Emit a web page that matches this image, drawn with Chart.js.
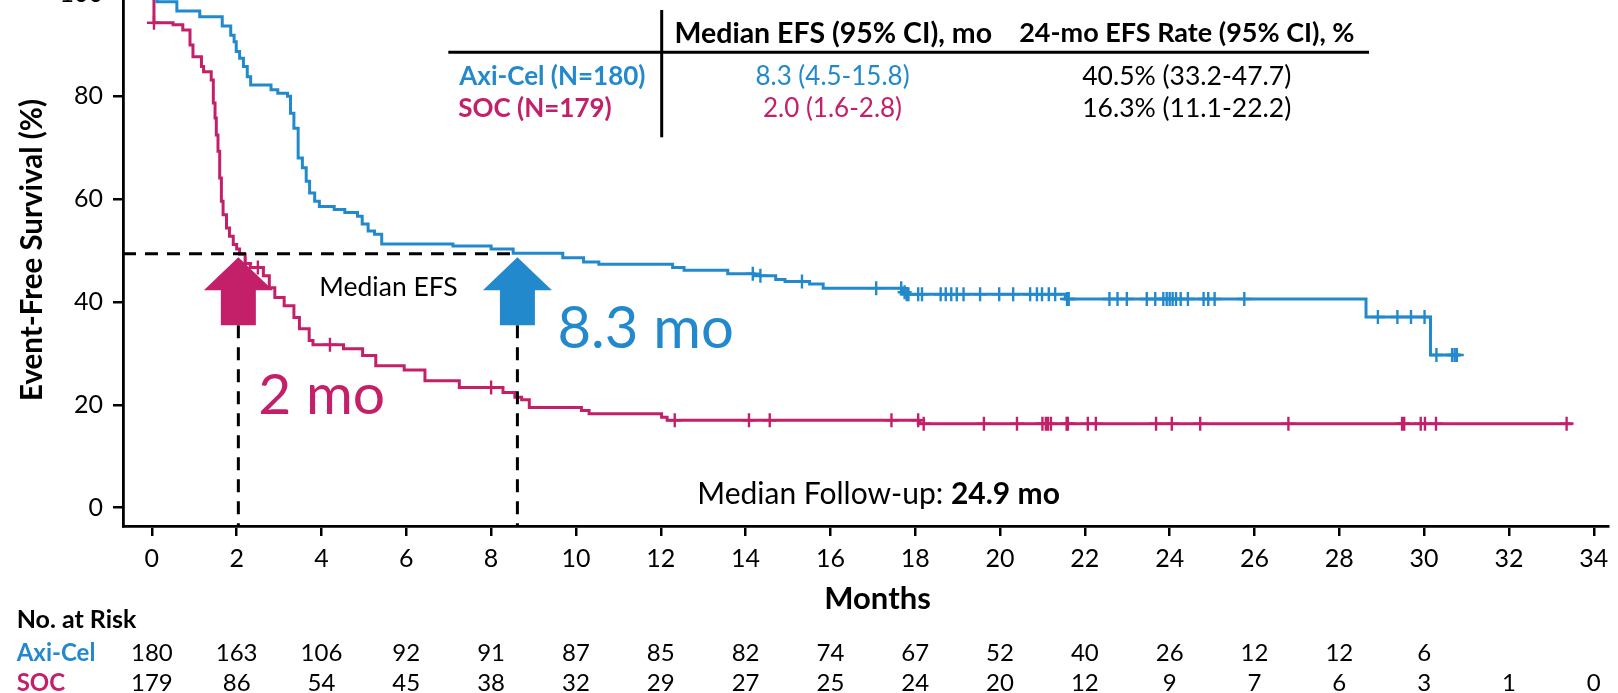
<!DOCTYPE html>
<html><head><meta charset="utf-8">
<script src="https://cdn.jsdelivr.net/npm/chart.js@4/dist/chart.umd.min.js"></script>
<style>
html,body{margin:0;padding:0;background:#fff;overflow:hidden;width:1618px;height:693px;}
#wrap{position:absolute;left:0;top:-48px;width:1618px;height:741px;}
</style></head><body>
<div id="wrap"><canvas id="c"></canvas></div>
<script>
// ---------- data ----------
const xTicks = [0,2,4,6,8,10,12,14,16,18,20,22,24,26,28,30,32,34];
const yTicks = [0,20,40,60,80,100];

const axiTimes = [0,0.12,0.59,1.13,1.66,1.86,1.94,1.99,2.07,2.16,2.25,2.33,2.81,2.97,3.2,3.27,3.35,3.45,3.55,3.64,3.72,3.84,3.95,4.3,4.55,4.85,4.96,5.1,5.25,5.42,7.1,8.0,8.52,9.69,10.18,10.54,12.28,12.55,13.58,14.2,14.71,14.93,15.51,15.83,17.72,17.8,21.54,28.63,30.15,30.85];
const axiSurv  = [100,98.4,96.6,95.5,93.7,91.9,90.6,88.7,87.4,85.8,83.8,82.2,81.3,80.6,80.0,76.7,73.8,68.0,66.1,63.5,61.2,59.6,58.6,58.0,57.4,56.7,55.2,53.8,53.2,51.3,50.9,50.3,49.5,48.6,47.8,47.35,46.7,46.2,45.5,45.1,44.4,44.0,43.5,42.7,41.9,41.5,40.6,37.1,29.7,29.7];
const axiCensor = [14.17,14.35,15.33,17.08,17.67,17.75,17.8,17.84,18.07,18.16,18.6,18.72,18.85,18.98,19.14,19.53,19.98,20.31,20.71,20.87,20.99,21.15,21.3,21.58,21.62,22.58,22.77,22.99,23.46,23.66,23.85,23.93,24.0,24.07,24.15,24.26,24.43,24.8,24.91,25.06,25.76,28.91,29.37,29.69,30.01,30.29,30.66,30.72,30.77];

const socTimes = [0,0.05,0.5,0.73,0.9,0.97,1.17,1.22,1.4,1.45,1.49,1.52,1.56,1.6,1.64,1.68,1.76,1.83,1.92,2.0,2.07,2.2,2.32,2.63,2.77,2.9,3.12,3.35,3.48,3.71,3.8,4.52,4.97,5.28,5.95,6.44,7.25,8.28,8.56,8.72,8.9,10.13,10.31,12.02,12.15,18.11,33.5];
const socSurv  = [100,94.3,93.9,92.9,90.0,87.7,85.8,84.8,83.2,78.7,75.8,72.5,69.3,64.1,59.6,57.0,54.4,52.8,51.2,50.3,49.3,47.5,46.7,45.1,42.8,40.9,39.3,37.0,34.8,32.5,31.7,30.9,29.6,27.6,26.8,24.7,23.4,22.4,21.5,21.0,19.5,18.9,18.3,17.6,17.0,16.35,16.35];
const socCensor = [0.05,2.2,2.5,4.2,8.0,12.33,14.08,14.57,17.44,18.07,18.2,19.62,20.4,21.0,21.08,21.13,21.2,21.57,21.6,22.07,22.26,23.68,24.05,24.72,26.8,29.48,29.53,29.92,30.02,30.28,33.36];

const riskAxi = [180,163,106,92,91,87,85,82,74,67,52,40,26,12,12,6];
const riskSoc = [179,86,54,45,38,32,29,27,25,24,20,12,9,7,6,3,1,0];

const medianSocX = 2.04, medianAxiX = 8.62, medianLevel = 49.4;
const arrowTip = 48.7, arrowBase = 35.5;

const BLUE = '#2389cd', PINK = '#c4206a';
const OFF = 48; // canvas is shifted up by this many px
const FONT = 'Lato';

function survAt(times, surv, t){ let v = surv[0]; for (let i=0;i<times.length;i++){ if (times[i] <= t) v = surv[i]; } return v; }
function pts(times, surv){ return times.map((t,i)=>({x:t,y:surv[i]})); }

function txt(ctx, s, x, capY, size, weight, color, align){
  ctx.font = (weight||'normal') + ' ' + size + 'px ' + FONT;
  ctx.fillStyle = color || '#000';
  ctx.textAlign = align || 'left';
  ctx.textBaseline = 'alphabetic';
  ctx.fillText(s, x, capY + OFF + 0.3583*size);
}

const annot = {
  id:'annot',
  afterDatasetsDraw(chart){
    const ctx = chart.ctx, xs = chart.scales.x, ys = chart.scales.y, ca = chart.chartArea;
    ctx.save();
    ctx.strokeStyle = '#000'; ctx.lineWidth = 3; ctx.setLineDash([13,9]);
    const yMed = ys.getPixelForValue(medianLevel);
    ctx.beginPath(); ctx.moveTo(ca.left, yMed); ctx.lineTo(xs.getPixelForValue(medianAxiX), yMed); ctx.stroke();
    [medianSocX, medianAxiX].forEach(m=>{
      const x = xs.getPixelForValue(m);
      ctx.beginPath(); ctx.moveTo(x, ys.getPixelForValue(arrowBase)); ctx.lineTo(x, ca.bottom); ctx.stroke();
    });
    ctx.setLineDash([]);
    function arrow(m, color){
      const cx = xs.getPixelForValue(m), ty = ys.getPixelForValue(arrowTip), by = ys.getPixelForValue(arrowBase);
      const hw = 34.5, sw = 17.5, hh = 33;
      ctx.fillStyle = color; ctx.beginPath();
      ctx.moveTo(cx, ty); ctx.lineTo(cx+hw, ty+hh); ctx.lineTo(cx+sw, ty+hh); ctx.lineTo(cx+sw, by);
      ctx.lineTo(cx-sw, by); ctx.lineTo(cx-sw, ty+hh); ctx.lineTo(cx-hw, ty+hh); ctx.closePath(); ctx.fill();
    }
    arrow(medianSocX, PINK); arrow(medianAxiX, BLUE);
    ctx.restore();
  },
  afterDraw(chart){
    const ctx = chart.ctx, xs = chart.scales.x;
    ctx.save();
    txt(ctx, 'Median EFS', 388.5, 286.7, 26.5, 'normal', '#000', 'center');
    txt(ctx, '2 mo', 258.3, 393.3, 57, 'normal', PINK, 'left');
    txt(ctx, '8.3 mo', 557.4, 327.5, 58, 'normal', BLUE, 'left');
    ctx.font = 'normal 30px ' + FONT;
    const w1 = ctx.measureText('Median Follow-up: ').width;
    txt(ctx, 'Median Follow-up: ', 697.3, 493.3, 30, 'normal', '#000', 'left');
    txt(ctx, '24.9 mo', 697.3 + w1, 493.3, 30, 'bold', '#000', 'left');
    txt(ctx, 'Months', 877.5, 598.3, 31, 'bold', '#000', 'center');
    // y-axis title
    const ts = 29.5;
    ctx.save();
    ctx.translate(31, 250 + OFF);
    ctx.rotate(-Math.PI/2);
    ctx.font = 'bold ' + ts + 'px ' + FONT; ctx.fillStyle = '#000'; ctx.textAlign = 'center'; ctx.textBaseline = 'alphabetic';
    ctx.fillText('Event-Free Survival (%)', 0, 0.3583*ts);
    ctx.restore();
    // top table
    ctx.strokeStyle = '#000'; ctx.lineWidth = 3;
    ctx.beginPath(); ctx.moveTo(661.7, 10+OFF); ctx.lineTo(661.7, 137.3+OFF); ctx.stroke();
    ctx.beginPath(); ctx.moveTo(448.3, 52.3+OFF); ctx.lineTo(1369, 52.3+OFF); ctx.stroke();
    txt(ctx, 'Median EFS (95% CI), mo', 833.3, 32.3, 28.5, 'bold', '#000', 'center');
    txt(ctx, '24-mo EFS Rate (95% CI), %', 1186.8, 32.3, 27, 'bold', '#000', 'center');
    txt(ctx, 'Axi-Cel (N=180)', 459.3, 75.3, 26, 'bold', BLUE, 'left');
    txt(ctx, '8.3 (4.5-15.8)', 832.5, 75.3, 26, 'normal', BLUE, 'center');
    txt(ctx, '40.5% (33.2-47.7)', 1186.7, 75.3, 26.5, 'normal', '#000', 'center');
    txt(ctx, 'SOC (N=179)', 458.3, 107.5, 26, 'bold', PINK, 'left');
    txt(ctx, '2.0 (1.6-2.8)', 832.5, 107.5, 26, 'normal', PINK, 'center');
    txt(ctx, '16.3% (11.1-22.2)', 1186.7, 107.5, 26.5, 'normal', '#000', 'center');
    // number at risk
    txt(ctx, 'No. at Risk', 16.7, 619, 25, 'bold', '#000', 'left');
    txt(ctx, 'Axi-Cel', 16.7, 652, 24, 'bold', BLUE, 'left');
    txt(ctx, 'SOC', 16.7, 682, 24, 'bold', PINK, 'left');
    riskAxi.forEach((v,i)=> txt(ctx, String(v), xs.getPixelForValue(xTicks[i]), 652, 24, 'normal', '#000', 'center'));
    riskSoc.forEach((v,i)=> txt(ctx, String(v), xs.getPixelForValue(xTicks[i]), 682, 24, 'normal', '#000', 'center'));
    ctx.restore();
  }
};

function make(){
  const CANVAS_H = 741, AREA_BOTTOM = 574;
  new Chart(document.getElementById('c'), {
    type: 'scatter',
    data: { datasets: [
      { label:'Axi-Cel', data: pts(axiTimes, axiSurv), showLine:true, stepped:'before', borderColor:BLUE, borderWidth:3, pointRadius:0, fill:false },
      { label:'SOC', data: pts(socTimes, socSurv), showLine:true, stepped:'before', borderColor:PINK, borderWidth:3, pointRadius:0, fill:false },
      { label:'Axi-Cel censored', data: axiCensor.map(t=>({x:t, y:survAt(axiTimes, axiSurv, t)})), showLine:false, pointStyle:'cross', pointRadius:7, pointBorderWidth:2.4, pointBorderColor:BLUE, borderColor:BLUE },
      { label:'SOC censored', data: socCensor.map(t=>({x:t, y:survAt(socTimes, socSurv, t)})), showLine:false, pointStyle:'cross', pointRadius:7, pointBorderWidth:2.4, pointBorderColor:PINK, borderColor:PINK }
    ]},
    options: {
      responsive:true, maintainAspectRatio:false, animation:false, events:[],
      layout:{ padding:{ left:0, right:0, top:41.5, bottom:0 } },
      plugins:{ legend:{display:false}, tooltip:{enabled:false}, title:{display:false} },
      scales:{
        x:{ type:'linear', min:-0.68, max:34.35,
          afterBuildTicks: s => { s.ticks = xTicks.map(v=>({value:v})); },
          afterFit: s => { s.height = CANVAS_H - AREA_BOTTOM; s.paddingLeft = 0; s.paddingRight = 0; },
          grid:{ display:true, drawOnChartArea:false, drawTicks:true, tickLength:10, lineWidth:2.5, color:'#000' },
          border:{ display:true, color:'#000', width:2.8 },
          ticks:{ padding:8, color:'#000', font:{family:FONT, size:25}, maxRotation:0, autoSkip:false },
          title:{ display:false }
        },
        y:{ type:'linear', min:-3.55, max:100,
          afterBuildTicks: s => { s.ticks = yTicks.map(v=>({value:v})); },
          afterFit: s => { s.width = 123; s.paddingTop = 0; s.paddingBottom = 0; },
          grid:{ display:true, drawOnChartArea:false, drawTicks:true, tickLength:10, lineWidth:2.5, color:'#000' },
          border:{ display:true, color:'#000', width:2.8 },
          ticks:{ padding:10, color:'#000', font:{family:FONT, size:25} },
          title:{ display:false }
        }
      }
    },
    plugins:[annot]
  });
}
Promise.all([document.fonts.load('24px Lato'), document.fonts.load('bold 24px Lato')]).then(make, make);
</script>
</body></html>
